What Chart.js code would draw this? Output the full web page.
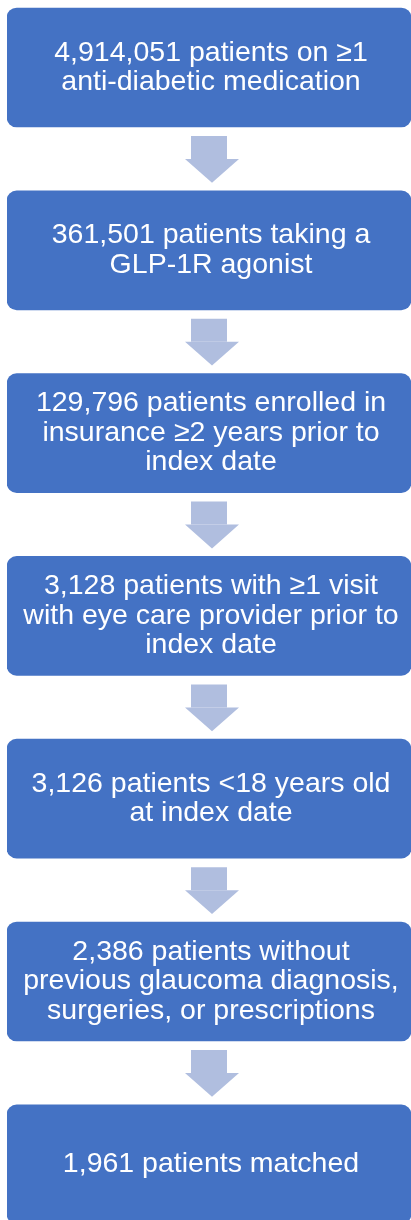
<!DOCTYPE html>
<html>
<head>
<meta charset="utf-8">
<script src="https://cdn.jsdelivr.net/npm/chart.js@4"></script>
<style>
  body { margin: 0; background: #fff; }
</style>
</head>
<body>
<canvas id="flow" width="411" height="1220"></canvas>
<script>
// flow steps, one box each
const steps = [
  ['4,914,051 patients on ≥1', 'anti-diabetic medication'],
  ['361,501 patients taking a', 'GLP-1R agonist'],
  ['129,796 patients enrolled in', 'insurance ≥2 years prior to', 'index date'],
  ['3,128 patients with ≥1 visit', 'with eye care provider prior to', 'index date'],
  ['3,126 patients <18 years old', 'at index date'],
  ['2,386 patients without', 'previous glaucoma diagnosis,', 'surgeries, or prescriptions'],
  ['1,961 patients matched']
];
const patients = [4914051, 361501, 129796, 3128, 3126, 2386, 1961];

const boxBlue = '#4472C4';
const arrowBlue = '#B0BEDF';

// layout in pixel units of the y scale
const pitch = 182.8, boxH = 119, firstTop = 8;
const boxes = steps.map((s, i) => [firstTop + i * pitch, firstTop + i * pitch + boxH]);
const shafts = boxes.slice(0, -1).map(b => [b[1] + 9, b[1] + 32]);
const heads = boxes.slice(0, -1).map((b, i) => [b[1] + 32, boxes[i + 1][0] - 8]);

const datasets = boxes.map((b, i) => ({
  label: 'step ' + (i + 1),
  data: [b],
  backgroundColor: boxBlue,
  borderRadius: 10,
  borderSkipped: false,
  barPercentage: 1,
  categoryPercentage: 1,
  grouped: false
}));
shafts.forEach((s, i) => datasets.push({
  label: 'arrow ' + (i + 1),
  data: [s],
  backgroundColor: arrowBlue,
  borderSkipped: false,
  barPercentage: 36 / 404,
  categoryPercentage: 1,
  grouped: false
}));

const flowPlugin = {
  id: 'flow',
  afterDatasetsDraw(chart) {
    const ctx = chart.ctx;
    const y = chart.scales.y;
    const area = chart.chartArea;
    const cx = (area.left + area.right) / 2;
    ctx.save();
    // arrow heads
    ctx.fillStyle = arrowBlue;
    heads.forEach(h => {
      ctx.beginPath();
      ctx.moveTo(cx + 3 - 27, y.getPixelForValue(h[0]));
      ctx.lineTo(cx + 3 + 27, y.getPixelForValue(h[0]));
      ctx.lineTo(cx + 3, y.getPixelForValue(h[1]));
      ctx.closePath();
      ctx.fill();
    });
    // box text
    ctx.fillStyle = '#fff';
    ctx.font = '28.5px "Liberation Sans", Arial, sans-serif';
    ctx.textAlign = 'center';
    ctx.textBaseline = 'middle';
    const lh = 29.5;
    steps.forEach((lines, i) => {
      const mid = y.getPixelForValue((boxes[i][0] + boxes[i][1]) / 2);
      lines.forEach((t, k) => {
        ctx.fillText(t, cx + 2, mid + (k - (lines.length - 1) / 2) * lh);
      });
    });
    ctx.restore();
  }
};

new Chart(document.getElementById('flow'), {
  type: 'bar',
  data: { labels: ['flow'], datasets: datasets },
  options: {
    responsive: false,
    animation: false,
    devicePixelRatio: 1,
    layout: { padding: { left: 7, right: 0, top: 0, bottom: 0 } },
    plugins: { legend: { display: false }, tooltip: { enabled: false } },
    scales: {
      x: { display: false },
      y: { display: false, reverse: true, min: 0, max: 1220 }
    }
  },
  plugins: [flowPlugin]
});
</script>
</body>
</html>
